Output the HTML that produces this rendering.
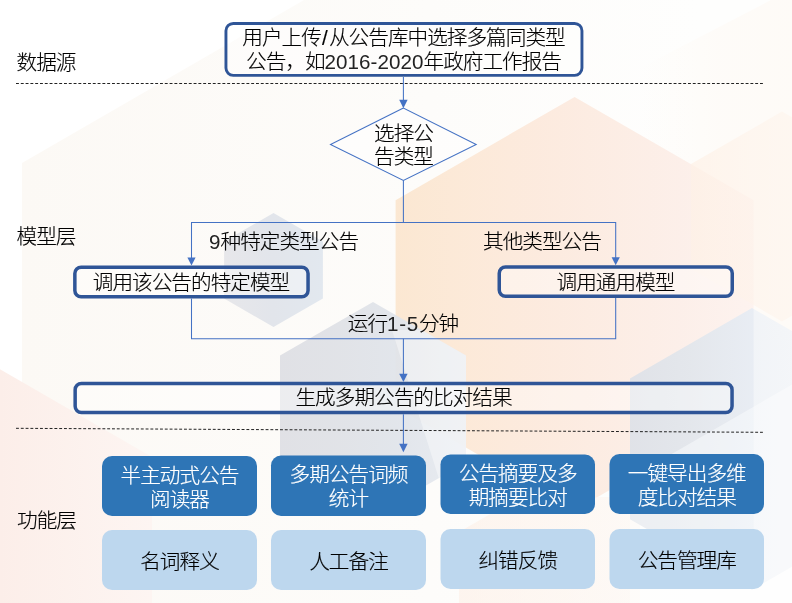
<!DOCTYPE html>
<html lang="zh-CN">
<head>
<meta charset="utf-8">
<title>公告比对流程</title>
<style>
html,body{margin:0;padding:0;}
body{width:792px;height:603px;position:relative;overflow:hidden;background:#fff;
font-family:"Liberation Sans","Noto Sans CJK SC",sans-serif;font-weight:300;color:#000;-webkit-text-stroke:0.15px #000;}
#bg{position:absolute;left:0;top:0;width:792px;height:603px;display:block;}
.t{position:absolute;font-size:20.6px;letter-spacing:-0.95px;line-height:24px;white-space:nowrap;text-align:center;}
.lab{left:17px;text-align:left;}
.box{position:absolute;box-sizing:border-box;display:flex;align-items:center;justify-content:center;text-align:center;
font-size:20.6px;letter-spacing:-0.95px;line-height:24px;}
.sl{letter-spacing:1.2px;margin-left:1.2px;}
.n{letter-spacing:0.05px;-webkit-text-stroke:0;color:#222;}
.dk{color:#fff;-webkit-text-stroke:0.2px #fff;padding-top:3.2px;}
.lt{padding-top:3.2px;}
</style>
</head>
<body>
<div id="wrap" style="position:absolute;left:0;top:0;width:792px;height:603px;opacity:0.999;will-change:opacity;">
<svg id="bg" width="792" height="603" viewBox="0 0 792 603">
<defs>
<linearGradient id="gA" x1="395.600" y1="0" x2="753.600" y2="0" gradientUnits="userSpaceOnUse">
<stop offset="0" stop-color="#fbe6cf"/><stop offset="0.2" stop-color="#fce8d6"/><stop offset="0.4" stop-color="#fce9dc"/><stop offset="0.8" stop-color="#fceee8"/><stop offset="1" stop-color="#fdf2ee"/>
</linearGradient>
<linearGradient id="gB" x1="691" y1="0" x2="873" y2="0" gradientUnits="userSpaceOnUse">
<stop offset="0" stop-color="#fef1e6" stop-opacity="0.7"/><stop offset="0.35" stop-color="#fef3ea" stop-opacity="0.6"/><stop offset="1" stop-color="#fef6ef" stop-opacity="0.5"/>
</linearGradient>
<linearGradient id="gS" x1="224" y1="0" x2="323" y2="0" gradientUnits="userSpaceOnUse">
<stop offset="0" stop-color="#e7e7ea"/><stop offset="0.5" stop-color="#e2e5eb"/><stop offset="1" stop-color="#e2e8ef"/>
</linearGradient>
<linearGradient id="gM" x1="280" y1="0" x2="466" y2="0" gradientUnits="userSpaceOnUse">
<stop offset="0" stop-color="#dedfe4"/><stop offset="0.3" stop-color="#dfe1e6"/><stop offset="0.62" stop-color="#e0e4ea"/><stop offset="1" stop-color="#e6eaf0"/>
</linearGradient>
<linearGradient id="gR" x1="630" y1="0" x2="874" y2="0" gradientUnits="userSpaceOnUse">
<stop offset="0" stop-color="#dde1e8"/><stop offset="0.25" stop-color="#e1e6ec"/><stop offset="0.505" stop-color="#e6ecf4"/><stop offset="0.508" stop-color="#f0f3f7"/><stop offset="1" stop-color="#f8f9fb"/>
</linearGradient>
<linearGradient id="gL" x1="-206" y1="0" x2="152" y2="0" gradientUnits="userSpaceOnUse">
<stop offset="0" stop-color="#fbe8e0"/><stop offset="0.575" stop-color="#fceee9"/><stop offset="1" stop-color="#fdf5f2"/>
</linearGradient>
<linearGradient id="gP" x1="459" y1="0" x2="640" y2="0" gradientUnits="userSpaceOnUse">
<stop offset="0" stop-color="#fdeee4"/><stop offset="1" stop-color="#fdf6f1"/>
</linearGradient>
<linearGradient id="gBig" x1="22" y1="0" x2="700" y2="0" gradientUnits="userSpaceOnUse">
<stop offset="0" stop-color="#fcf9f5"/><stop offset="0.6" stop-color="#fdfcfa"/><stop offset="1" stop-color="#fefefd"/>
</linearGradient>
<linearGradient id="gC" x1="640" y1="0" x2="792" y2="0" gradientUnits="userSpaceOnUse">
<stop offset="0" stop-color="#fef6ee" stop-opacity="0"/><stop offset="0.5" stop-color="#fef6ee" stop-opacity="0.8"/><stop offset="1" stop-color="#fef6ee" stop-opacity="1"/>
</linearGradient>
</defs>
<!-- large pale hexagon -->
<polygon points="22,163 304,0 792,0 792,603 22,603" fill="url(#gBig)"/>
<!-- faint cream hexagon top right -->
<polygon points="640,68 771,0 792,0 792,340 640,340" fill="url(#gC)" opacity="0.4"/>
<!-- peach hexagon A -->
<polygon points="574.600,96.900 753.600,200.250 753.600,406.950 574.600,510.300 395.600,406.950 395.600,200.250" fill="url(#gA)" opacity="0.93"/>
<!-- hexagon B -->
<polygon points="782,111.500 873,164 873,269 782,321.500 691,269 691,164" fill="url(#gB)"/>
<!-- faint peach lower region -->
<polygon points="459,532 520,497 640,497 640,603 459,603" fill="url(#gP)" opacity="0.55"/>
<!-- bottom-left pink hexagon -->
<polygon points="-27,353.700 152,457 152,663.800 -27,767 -206,663.800 -206,457" fill="url(#gL)"/>
<!-- small blue-grey hexagon -->
<polygon points="273.500,213 322.900,241.500 322.900,298.500 273.500,327 224.100,298.500 224.100,241.500" fill="url(#gS)"/>
<!-- middle blue-grey hexagon -->
<polygon points="373,302 466,355.500 466,462.500 373,516 280,462.500 280,355.500" fill="url(#gM)" opacity="0.93"/>
<clipPath id="cM"><polygon points="373,302 466,355.500 466,462.500 373,516 280,462.500 280,355.500"/></clipPath>
<polygon clip-path="url(#cM)" points="392,330 470,330 470,520 452,520" fill="#ffffff" opacity="0.38"/>
<!-- right blue-grey hexagon -->
<polygon points="752,308 874,378.400 874,519.300 752,589.800 630,519.300 630,378.400" fill="url(#gR)" opacity="0.9"/>
<polygon points="630,478 792,384.500 792,603 630,603" fill="#ffffff" opacity="0.4"/>
<!-- dashed separators -->
<line x1="16" y1="83.500" x2="763" y2="83.500" stroke="#222" stroke-width="1" stroke-dasharray="2.9 1.9"/>
<line x1="16" y1="428.300" x2="763" y2="432.300" stroke="#222" stroke-width="1" stroke-dasharray="2.9 1.9"/>
<!-- outlined boxes -->
<g fill="#ffffff" fill-opacity="0.4" stroke="#2f5597">
<rect x="225.950" y="23.450" width="356" height="51.900" rx="7.300" stroke-width="2.900"/>
<rect x="74.850" y="267.150" width="233.200" height="29.700" rx="6.300" stroke-width="3.500"/>
<rect x="499.250" y="266.950" width="233" height="29.300" rx="6.300" stroke-width="3.500"/>
<rect x="75.150" y="383.450" width="656.900" height="29.100" rx="6.300" stroke-width="3.500"/>
</g>
<!-- function boxes -->
<rect x="102.000" y="456.000" width="155.000" height="60.000" rx="10" fill="#2e75b6"/>
<rect x="271.000" y="455.500" width="155.000" height="60.500" rx="10" fill="#2e75b6"/>
<rect x="440.500" y="454.500" width="154.500" height="59.500" rx="10" fill="#2e75b6"/>
<rect x="609.500" y="454.000" width="154.500" height="60.000" rx="10" fill="#2e75b6"/>
<rect x="102.000" y="530.000" width="155.000" height="60.000" rx="10" fill="#bdd7ee"/>
<rect x="271.000" y="530.000" width="155.000" height="60.000" rx="10" fill="#bdd7ee"/>
<rect x="440.500" y="529.000" width="154.500" height="60.000" rx="10" fill="#bdd7ee"/>
<rect x="609.500" y="529.000" width="154.500" height="60.000" rx="10" fill="#bdd7ee"/>
<!-- connectors -->
<g stroke="#4472c4" stroke-width="1.05" fill="none">
<path d="M403.400,77 V100"/>
<polygon points="403.400,108 330.500,144.500 403.400,180.500 476.200,144.500" fill="#ffffff" fill-opacity="0.45"/>
<path d="M403.400,180.500 V222.500"/>
<path d="M191.500,258 V222.500 H615.700 V258"/>
<path d="M191.500,298.500 V338.700 H615.700 V298"/>
<path d="M403.400,338.700 V375"/>
<path d="M403.400,414.300 V445"/>
</g>
<g fill="#4472c4">
<polygon points="399.200,99.700 407.600,99.700 403.400,108.200"/>
<polygon points="187.400,257.500 195.600,257.500 191.500,265.400"/>
<polygon points="611.600,257.300 619.800,257.300 615.700,265.200"/>
<polygon points="399.200,373.800 407.600,373.800 403.400,382"/>
<polygon points="399.200,443.800 407.600,443.800 403.400,452.200"/>
</g>
</svg>

<div class="t lab" style="top:50.500px;left:16.500px">数据源</div>
<div class="t lab" style="top:224.500px;left:16.500px">模型层</div>
<div class="t lab" style="top:508.500px">功能层</div>

<div class="t" style="left:224px;width:359px;top:26px">用户上传<span class="sl">/</span>从公告库中选择多篇同类型<br>公告，如<span class="n">2016-2020</span>年政府工作报告</div>

<div class="t" style="left:343.500px;width:120px;top:123.200px;line-height:22.800px">选择公<br>告类型</div>

<div class="t" style="left:209px;top:230px"><span class="n">9</span>种特定类型公告</div>
<div class="t" style="left:483px;top:230px">其他类型公告</div>

<div class="t" style="left:73px;width:236px;top:270.500px">调用该公告的特定模型</div>
<div class="t" style="left:497.500px;width:236px;top:270.500px">调用通用模型</div>

<div class="t" style="left:343px;width:120px;top:312px">运行<span class="n" style="letter-spacing:0.7px">1-5</span>分钟</div>

<div class="t" style="left:73.500px;width:660px;top:386px">生成多期公告的比对结果</div>

<div class="box dk" style="left:102px;top:456px;width:155px;height:60px;">半主动式公告<br>阅读器</div>
<div class="box dk" style="left:271px;top:455.500px;width:155px;height:60.500px;">多期公告词频<br>统计</div>
<div class="box dk" style="left:440.500px;top:454.500px;width:154.500px;height:59.500px;">公告摘要及多<br>期摘要比对</div>
<div class="box dk" style="left:609.500px;top:454px;width:154.500px;height:60px;">一键导出多维<br>度比对结果</div>

<div class="box lt" style="left:102px;top:530px;width:155px;height:60px;">名词释义</div>
<div class="box lt" style="left:271px;top:530px;width:155px;height:60px;">人工备注</div>
<div class="box lt" style="left:440.500px;top:529px;width:154.500px;height:60px;">纠错反馈</div>
<div class="box lt" style="left:609.500px;top:529px;width:154.500px;height:60px;">公告管理库</div>
</div>
</body>
</html>
